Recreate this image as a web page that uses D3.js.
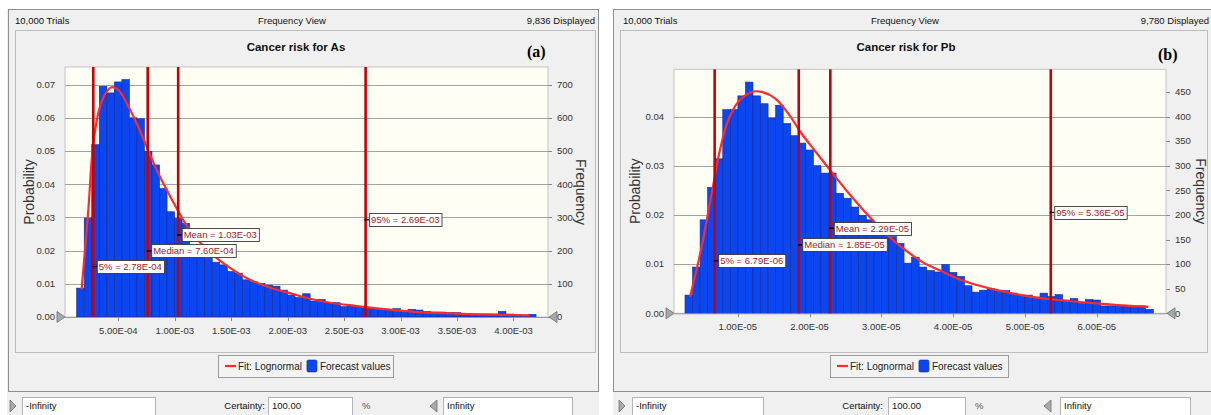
<!DOCTYPE html>
<html><head><meta charset="utf-8">
<script src="https://cdn.jsdelivr.net/npm/d3@7"></script>
<style>
html,body{margin:0;padding:0;background:#fff;}
svg text{font-family:"Liberation Sans",Arial,sans-serif;}
</style></head><body>
<svg id="c" width="1211" height="415"></svg>
<script>
// ---------------- DATA: Cancer risk for As ----------------
const asBinStart = 1.31e-4;
const asBinWidth = 0.0667e-3;
const asProb = [0.0087,0.0298,0.0519,0.0695,0.0675,0.0708,0.0715,0.0600,0.0597,0.0499,
  0.0458,0.0387,0.0317,0.0297,0.0282,0.0215,0.0182,0.0177,0.0165,0.0157,
  0.0137,0.0132,0.0112,0.0106,0.0101,0.0096,0.0093,0.0081,0.0066,0.0059,
  0.0070,0.0048,0.0053,0.0042,0.0043,0.0031,0.0033,0.0031,0.0029,0.0026,
  0.0023,0.0021,0.0025,0.0019,0.0023,0.0021,0.0017,0.0015,0.0015,0.0013,
  0.0013,0.0009,0.0009,0.0009,0.0009,0.0009,0.0017,0.0009,0.0007,0.0006,0.0008];
const asFitX = [0.175,0.234,0.278,0.337,0.397,0.441,0.500,0.574,0.663,0.751,0.840,0.928,1.017,1.135,1.327,1.489,1.666,1.872,2.020,2.109,2.197,2.374,2.611,2.788,2.995,3.201,3.497,3.792,4.146].map(v=>v*1e-3);
const asFitY = [0.0083,0.0322,0.0523,0.0633,0.0679,0.0692,0.0684,0.0644,0.0583,0.0513,0.0443,0.0383,0.0327,0.0260,0.0190,0.0148,0.0112,0.0085,0.0072,0.0063,0.0055,0.0043,0.0033,0.0026,0.0019,0.0014,0.0010,0.0007,0.0005];
const asStatValues = [2.78e-4, 7.60e-4, 1.03e-3, 2.69e-3];
const asStatLabels = ["5% = 2.78E-04","Median = 7.60E-04","Mean = 1.03E-03","95% = 2.69E-03"];
const asXTicks = [5e-4,1e-3,1.5e-3,2e-3,2.5e-3,3e-3,3.5e-3,4e-3];
const asXTickLabels = ["5.00E-04","1.00E-03","1.50E-03","2.00E-03","2.50E-03","3.00E-03","3.50E-03","4.00E-03"];
const asYTicks = [0,0.01,0.02,0.03,0.04,0.05,0.06,0.07];
const asYTickLabels = ["0.00","0.01","0.02","0.03","0.04","0.05","0.06","0.07"];
const asFreqTicks = [0,100,200,300,400,500,600,700];

// ---------------- DATA: Cancer risk for Pb ----------------
const pbBinStart = 0.266e-5;
const pbBinWidth = 0.1052e-5;
const pbProb = [0.0037,0.0094,0.0190,0.0256,0.0314,0.0414,0.0414,0.0442,0.0470,0.0442,
  0.0426,0.0397,0.0423,0.0386,0.0361,0.0346,0.0332,0.0300,0.0285,0.0285,
  0.0244,0.0234,0.0216,0.0199,0.0190,0.0178,0.0165,0.0156,0.0142,0.0102,
  0.0114,0.0094,0.0087,0.0084,0.0099,0.0083,0.0075,0.0056,0.0043,0.0047,
  0.0050,0.0047,0.0046,0.0041,0.0037,0.0037,0.0033,0.0041,0.0034,0.0038,
  0.0027,0.0030,0.0020,0.0028,0.0027,0.0015,0.0015,0.0015,0.0015,0.0015,0.0015,0.0008];
const pbFitX = [0.336,0.498,0.638,0.753,0.869,1.009,1.195,1.334,1.520,1.705,1.891,2.077,2.309,2.541,2.773,3.006,3.260,3.585,3.817,4.142,4.607,5.071,5.535,6.000,6.348,6.719].map(v=>v*1e-5);
const pbFitY = [0.0033,0.0135,0.0244,0.0332,0.0393,0.0430,0.0450,0.0450,0.0437,0.0406,0.0365,0.0330,0.0287,0.0245,0.0206,0.0170,0.0137,0.0103,0.0087,0.0066,0.0047,0.0034,0.0026,0.0020,0.0016,0.0013];
const pbStatValues = [6.79e-6, 1.85e-5, 2.29e-5, 5.36e-5];
const pbStatLabels = ["5% = 6.79E-06","Median = 1.85E-05","Mean = 2.29E-05","95% = 5.36E-05"];
const pbXTicks = [1e-5,2e-5,3e-5,4e-5,5e-5,6e-5];
const pbXTickLabels = ["1.00E-05","2.00E-05","3.00E-05","4.00E-05","5.00E-05","6.00E-05"];
const pbYTicks = [0,0.01,0.02,0.03,0.04];
const pbYTickLabels = ["0.00","0.01","0.02","0.03","0.04"];
const pbFreqTicks = [0,50,100,150,200,250,300,350,400,450];

const trials = 10000;

// ---------------- LAYOUT ----------------
const panels = [
 { bg:[7,9,599,415], frame:[8,9,598,391], dotted:[15,30,595,352],
   plot:{x0:65,x1:548,y0:67,y1:317}, xDomain:[0.0275e-3,4.3056e-3], yTop:0.0753,
   header:["10,000 Trials","Frequency View","9,836 Displayed"], headerX:[15,292,595],
   title:"Cancer risk for As", titleX:296, tag:"(a)", tagX:527, tagY:57,
   binStart:asBinStart, binWidth:asBinWidth, prob:asProb, fitX:asFitX, fitY:asFitY,
   stats:asStatValues, statLabels:asStatLabels, statLabelY:[0.0152,0.0199,0.0247,0.0293],
   xTicks:asXTicks, xTickLabels:asXTickLabels, yTicks:asYTicks, yTickLabels:asYTickLabels, freqTicks:asFreqTicks,
   freqGrid:false, probX:29, freqX:581,
   legend:[218,393], bottom:{tri1:10, box1:[22,155], certEnd:265, box2:[268,352], pct:362, tri2:430, box3:[443,572]}
 },
 { bg:[613,9,1211,415], frame:[613,9,1213,391], dotted:[620,30,1207,352],
   plot:{x0:674,x1:1166,y0:69.3,y1:313.3}, xDomain:[0.1128e-5,6.965e-5], yTop:0.0496,
   header:["10,000 Trials","Frequency View","9,780 Displayed"], headerX:[623,905,1209],
   title:"Cancer risk for Pb", titleX:906, tag:"(b)", tagX:1158, tagY:60,
   binStart:pbBinStart, binWidth:pbBinWidth, prob:pbProb, fitX:pbFitX, fitY:pbFitY,
   stats:pbStatValues, statLabels:pbStatLabels, statLabelY:[0.0107,0.0139,0.0173,0.0205],
   xTicks:pbXTicks, xTickLabels:pbXTickLabels, yTicks:pbYTicks, yTickLabels:pbYTickLabels, freqTicks:pbFreqTicks,
   probX:635, freqX:1201,
   legend:[830,1008], bottom:{tri1:619, box1:[632,763], certEnd:883, box2:[888,965], pct:975, tri2:1044, box3:[1060,1190]}
 }
];

const svg = d3.select("#c");

function drawPanel(c){
  const g = svg.append("g");
  // panel background & frame
  g.append("rect").attr("x",c.bg[0]).attr("y",c.bg[1]).attr("width",c.bg[2]-c.bg[0]).attr("height",c.bg[3]-c.bg[1]).attr("fill","#f0f0f0");
  g.append("rect").attr("x",c.frame[0]+0.5).attr("y",c.frame[1]+0.5).attr("width",c.frame[2]-c.frame[0]).attr("height",c.frame[3]-c.frame[1])
    .attr("fill","none").attr("stroke","#8e8e8e");
  g.append("rect").attr("x",c.dotted[0]+0.5).attr("y",c.dotted[1]+0.5).attr("width",c.dotted[2]-c.dotted[0]).attr("height",c.dotted[3]-c.dotted[1])
    .attr("fill","none").attr("stroke","#8a8a8a").attr("stroke-dasharray","1,1");
  // header
  const hAnch = ["start","middle","end"];
  c.header.forEach((t,i)=>{
    g.append("text").attr("x",c.headerX[i]).attr("y",24).attr("text-anchor",hAnch[i]).attr("font-size","9.5px").attr("fill","#111").text(t);
  });
  g.append("text").attr("x",c.titleX).attr("y",51).attr("text-anchor","middle").attr("font-size","11.5px").attr("font-weight","bold").attr("fill","#111").text(c.title);
  g.append("text").attr("x",c.tagX).attr("y",c.tagY).attr("font-size","16px").attr("font-weight","bold")
    .style("font-family","'Liberation Serif','Times New Roman',serif").attr("fill","#000").text(c.tag);

  const p = c.plot;
  const x = d3.scaleLinear().domain(c.xDomain).range([p.x0,p.x1]);
  const y = d3.scaleLinear().domain([0,c.yTop]).range([p.y1,p.y0]);
  const yF = d3.scaleLinear().domain([0,c.yTop*trials]).range([p.y1,p.y0]);

  g.append("rect").attr("x",p.x0).attr("y",p.y0).attr("width",p.x1-p.x0).attr("height",p.y1-p.y0)
    .attr("fill","#fefef4").attr("stroke","#c4c4c4");

  // gridlines
  g.selectAll("line.grid").data(c.yTicks.filter(d=>d>0)).join("line")
    .attr("x1",p.x0).attr("x2",p.x1+4).attr("y1",d=>Math.round(y(d))+0.5).attr("y2",d=>Math.round(y(d))+0.5)
    .attr("stroke","#a3a3a3").attr("stroke-width",1);

  // left axis labels
  g.selectAll("text.yl").data(c.yTicks).join("text")
    .attr("x",p.x0-10).attr("y",d=>y(d)).attr("dy","0.35em").attr("text-anchor","end")
    .attr("font-size","9.5px").attr("fill","#333").text((d,i)=>c.yTickLabels[i]);
  // right axis ticks & labels
  g.selectAll("line.rt").data(c.freqTicks).join("line")
    .attr("x1",p.x1).attr("x2",p.x1+4).attr("y1",d=>Math.round(yF(d))+0.5).attr("y2",d=>Math.round(yF(d))+0.5).attr("stroke","#8a8a8a");
  g.selectAll("text.fl").data(c.freqTicks).join("text")
    .attr("x",p.x1+9).attr("y",d=>yF(d)).attr("dy","0.35em").attr("text-anchor","start")
    .attr("font-size","9.5px").attr("fill","#333").text(d=>d);

  // axis titles
  g.append("text").attr("transform",`translate(${c.probX},${(p.y0+p.y1)/2}) rotate(-90)`).attr("dy","0.35em")
    .attr("text-anchor","middle").attr("font-size","14px").attr("fill","#333").text("Probability");
  g.append("text").attr("transform",`translate(${c.freqX},${(p.y0+p.y1)/2}) rotate(90)`).attr("dy","0.35em")
    .attr("text-anchor","middle").attr("font-size","14px").attr("fill","#333").text("Frequency");

  // bars
  const bars = c.prob.map((v,i)=>({a:c.binStart+i*c.binWidth, b:c.binStart+(i+1)*c.binWidth, v}));
  g.selectAll("rect.bar").data(bars).join("rect")
    .attr("x",d=>x(d.a)).attr("width",d=>x(d.b)-x(d.a))
    .attr("y",d=>y(d.v)).attr("height",d=>y(0)-y(d.v))
    .attr("fill","#0a46f2").attr("stroke","#1a2a86").attr("stroke-width",0.6);

  // x axis
  g.append("line").attr("x1",p.x0).attr("x2",p.x1).attr("y1",p.y1+0.5).attr("y2",p.y1+0.5).attr("stroke","#9a9a9a");
  g.selectAll("line.xt").data(c.xTicks).join("line")
    .attr("x1",d=>Math.round(x(d))+0.5).attr("x2",d=>Math.round(x(d))+0.5).attr("y1",p.y1).attr("y2",p.y1+4).attr("stroke","#8a8a8a");
  g.selectAll("text.xl").data(c.xTicks).join("text")
    .attr("x",d=>x(d)).attr("y",p.y1+17).attr("text-anchor","middle")
    .attr("font-size","9.5px").attr("fill","#333").text((d,i)=>c.xTickLabels[i]);

  // fit curve
  const fit = c.fitX.map((v,i)=>[v,c.fitY[i]]);
  g.append("path").datum(fit).attr("fill","none").attr("stroke","#ff2a2a").attr("stroke-width",2.2)
    .attr("d",d3.line().x(d=>x(d[0])).y(d=>y(d[1])).curve(d3.curveCatmullRom.alpha(0.5)));

  // stat lines
  g.selectAll("line.stat").data(c.stats).join("line")
    .attr("x1",d=>x(d)).attr("x2",d=>x(d)).attr("y1",p.y0).attr("y2",p.y1)
    .attr("stroke","#c80000").attr("stroke-width",2.6);

  // stat labels
  c.stats.forEach((v,i)=>{
    const lx = x(v)+3.5, ly = y(c.statLabelY[i]);
    const lg = g.append("g");
    const r = lg.append("rect").attr("fill","#fff").attr("stroke","#3a3a3a").attr("stroke-width",0.9);
    const t = lg.append("text").attr("x",lx+2).attr("y",ly).attr("dy","0.36em").attr("font-size","9.5px").attr("fill","#a01a1a").text(c.statLabels[i]);
    const w = t.node().getComputedTextLength();
    r.attr("x",lx+0.5).attr("y",Math.round(ly-6.5)+0.5).attr("width",w+4).attr("height",13);
    lg.append("line").attr("x1",x(v)-1).attr("x2",lx).attr("y1",ly).attr("y2",ly).attr("stroke","#000").attr("stroke-width",1.5);
  });

  // certainty grabbers
  g.append("path").attr("d",`M${p.x0-8},${p.y1-5.5}L${p.x0},${p.y1}L${p.x0-8},${p.y1+5.5}Z`).attr("fill","#a9a9a9").attr("stroke","#6e6e6e").attr("stroke-width",0.8);
  g.append("path").attr("d",`M${p.x1+9},${p.y1-5.5}L${p.x1+1},${p.y1}L${p.x1+9},${p.y1+5.5}Z`).attr("fill","#a9a9a9").attr("stroke","#6e6e6e").attr("stroke-width",0.8);

  // legend
  const L = c.legend, ly0 = 355, ly1 = 377, lc = (ly0+ly1)/2;
  g.append("rect").attr("x",L[0]+0.5).attr("y",ly0+0.5).attr("width",L[1]-L[0]).attr("height",ly1-ly0)
    .attr("fill","#f3f3f3").attr("stroke","#9c9c9c");
  g.append("line").attr("x1",L[0]+7).attr("x2",L[0]+18).attr("y1",lc).attr("y2",lc).attr("stroke","#ff2a2a").attr("stroke-width",2.2);
  const t1 = g.append("text").attr("x",L[0]+20).attr("y",lc).attr("dy","0.35em").attr("font-size","10px").attr("fill","#222").text("Fit: Lognormal");
  const w1 = t1.node().getComputedTextLength();
  const sx = L[0]+20+w1+5;
  g.append("rect").attr("x",sx).attr("y",lc-6).attr("width",10).attr("height",12).attr("rx",1.5).attr("fill","#0a46f2").attr("stroke","#1a2a86").attr("stroke-width",0.6);
  g.append("text").attr("x",sx+13).attr("y",lc).attr("dy","0.35em").attr("font-size","10px").attr("fill","#222").text("Forecast values");

  // bottom row
  const B = c.bottom, by0 = 397, by1 = 415, bc = 406;
  g.append("path").attr("d",`M${B.tri1},${bc-6}L${B.tri1+6},${bc}L${B.tri1},${bc+6}Z`).attr("fill","#a9a9a9").attr("stroke","#6e6e6e").attr("stroke-width",0.8);
  g.append("path").attr("d",`M${B.tri2+7},${bc-6}L${B.tri2},${bc}L${B.tri2+7},${bc+6}Z`).attr("fill","#a9a9a9").attr("stroke","#6e6e6e").attr("stroke-width",0.8);
  [[B.box1,"-Infinity"],[B.box2,"100.00"],[B.box3,"Infinity"]].forEach(([bx,t])=>{
    g.append("rect").attr("x",bx[0]+0.5).attr("y",by0+0.5).attr("width",bx[1]-bx[0]).attr("height",by1-by0)
      .attr("fill","#fff").attr("stroke","#b4b4b4");
    g.append("text").attr("x",bx[0]+4).attr("y",bc).attr("dy","0.35em").attr("font-size","9.5px").attr("fill","#111").text(t);
  });
  g.append("text").attr("x",B.certEnd).attr("y",bc).attr("dy","0.35em").attr("text-anchor","end").attr("font-size","9.5px").attr("fill","#111").text("Certainty:");
  g.append("text").attr("x",B.pct).attr("y",bc).attr("dy","0.35em").attr("font-size","9.5px").attr("fill","#555").text("%");
}

panels.forEach(drawPanel);
</script>
</body></html>
